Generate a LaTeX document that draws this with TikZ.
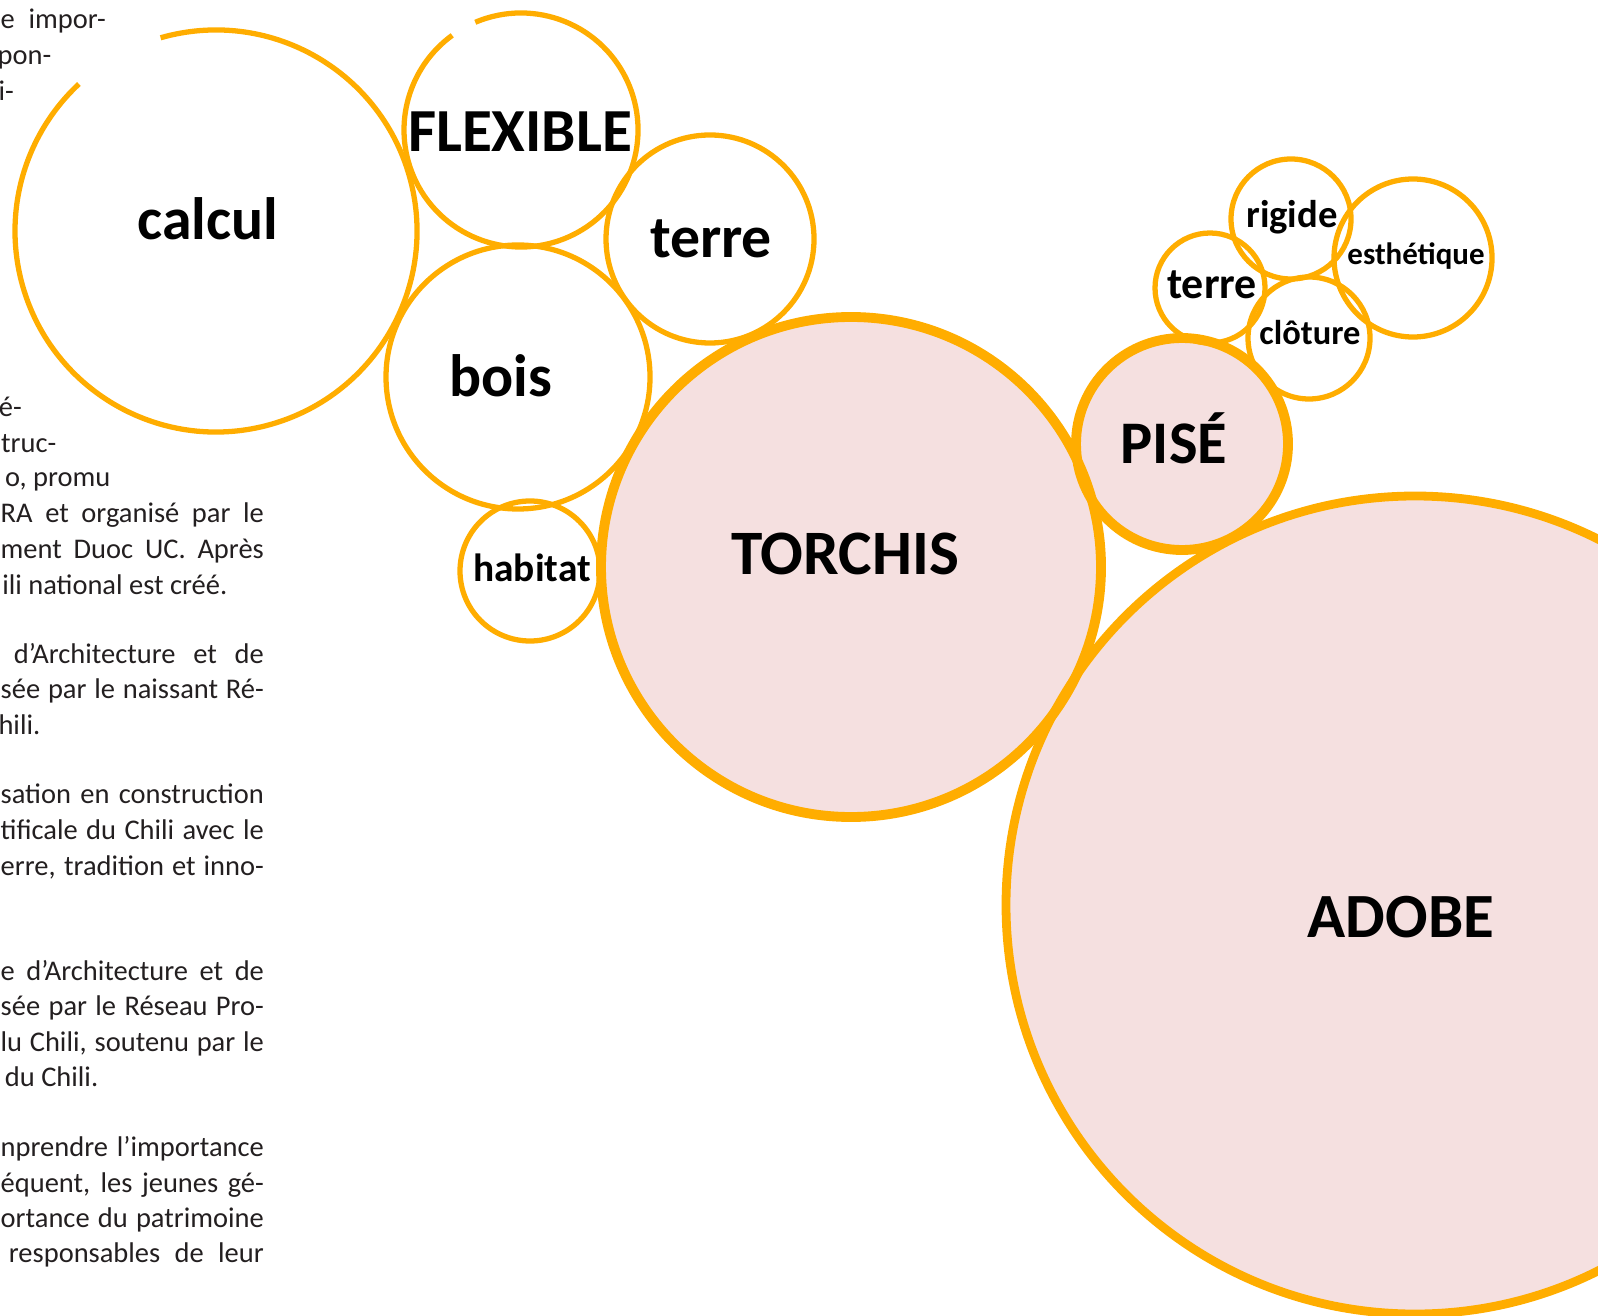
\documentclass[tikz,border=0pt]{standalone}
\usepackage{fontspec}
\setmainfont{Carlito}
\definecolor{bubbleorange}{RGB}{255,173,0}
\definecolor{bubblepink}{RGB}{245,224,224}
\definecolor{bodygray}{RGB}{35,31,32}

\begin{document}
\begin{tikzpicture}[x=0.01cm, y=-0.01cm,
    thinbubble/.style={draw=bubbleorange, line width=1.5pt},
    thickbubble/.style={draw=bubbleorange, line width=2.8pt},
    bubbletext/.style={font=\bfseries\fontsize{#1}{#1}\selectfont, anchor=base, inner sep=0pt},
    bodytext/.style={font=\fontsize{8.1}{10}\selectfont, text=bodygray, inner sep=0pt, anchor=base east},
    bodyjust/.style={bodytext, anchor=base west}]
  \useasboundingbox (0,0) rectangle (1598,1316);

  % column of text on the left
  \node[bodyjust] (t1) at (0,29) {\makebox[1.05cm][s]{e impor-}};
  \node[bodytext] (t2) at (52,65) {pon-};
  \node[bodytext] (t3) at (14.5,100.7) {i-};

  \node[bodytext] (a1) at (22.5,416.6) {é-};
  \node[bodytext] (a2) at (57,452.3) {truc-};
  \node[bodytext] (a3) at (111,487) {o, promu};
  \node[bodyjust] (a4) at (0,522.6) {\makebox[2.63cm][s]{RA et organisé par le}};
  \node[bodyjust] (a5) at (0,558.3) {\makebox[2.63cm][s]{ment Duoc UC. Après}};
  \node[bodytext] (a6) at (228,594) {ili national est créé.};

  \node[bodyjust] (b1) at (13.2,663.2) {\makebox[2.498cm][s]{d’Architecture et de}};
  \node[bodyjust] (b2) at (0,698.9) {\makebox[2.63cm][s]{sée par le naissant Ré-}};
  \node[bodytext] (b3) at (41,734.6) {hili.};

  \node[bodyjust] (c1) at (0,803.9) {\makebox[2.63cm][s]{sation en construction}};
  \node[bodyjust] (c2) at (0,839.5) {\makebox[2.63cm][s]{tificale du Chili avec le}};
  \node[bodyjust] (c3) at (0,875.2) {\makebox[2.63cm][s]{erre, tradition et inno-}};

  \node[bodyjust] (d1) at (0,980.2) {\makebox[2.63cm][s]{e d’Architecture et de}};
  \node[bodyjust] (d2) at (0,1015.8) {\makebox[2.63cm][s]{sée par le Réseau Pro-}};
  \node[bodyjust] (d3) at (0,1051.5) {\makebox[2.63cm][s]{lu Chili, soutenu par le}};
  \node[bodytext] (d4) at (99,1086.2) {du Chili.};

  \node[bodyjust] (e1) at (0,1156.5) {\makebox[2.63cm][s]{nprendre l’importance}};
  \node[bodyjust] (e2) at (0,1192.1) {\makebox[2.63cm][s]{équent, les jeunes gé-}};
  \node[bodyjust] (e3) at (0,1227.8) {\makebox[2.63cm][s]{ortance du patrimoine}};
  \node[bodyjust] (e4) at (8.2,1262.5) {\makebox[2.548cm][s]{responsables de leur}};

  % pink fills first
  \fill[bubblepink] (851,567) circle (250);
  \fill[bubblepink] (1182,444) circle (106);
  \fill[bubblepink] (1415,905) circle (409);

  % outlines
  \draw[thinbubble] (216,231) ++(254:201) arc[start angle=254, end angle=587, radius=201];
  \draw[thinbubble] (521,130) ++(247:117) arc[start angle=247, end angle=594, radius=117];
  \draw[thinbubble] (710,239) circle (104);
  \draw[thinbubble] (518,377) circle (132);
  \draw[thinbubble] (530,571) circle (70);
  \draw[thickbubble] (851,567) circle (250);
  \draw[thickbubble] (1182,444) circle (106);
  \draw[draw=bubbleorange, line width=2.5pt] (1415,905) circle (409);
  \draw[thinbubble] (1210,288) circle (55);
  \draw[thinbubble] (1291,219) circle (60);
  \draw[thinbubble] (1413,258) circle (79);
  \draw[thinbubble] (1309,338) circle (61);

  % words
  \node[bubbletext=17] (calcul) at (208,239.5) {calcul};
  \node[bubbletext=17.4] (flexible) at (520,152) {FLEXIBLE};
  \node[bubbletext=17] (terre) at (711,258) {terre};
  \node[bubbletext=17] (bois) at (501,397) {bois};
  \node[bubbletext=11.2] (habitat) at (532,581) {habitat};
  \node[bubbletext=18] (torchis) at (845,574) {TORCHIS};
  \node[bubbletext=17.2] (pise) at (1174,464) {PISÉ};
  \node[bubbletext=17.9] (adobe) at (1401,937) {ADOBE};
  \node[bubbletext=11] (rigide) at (1292,228) {rigide};
  \node[bubbletext=12.5] (terre2) at (1212,299) {terre};
  \node[bubbletext=8.8] (esthetique) at (1416,265) {esthétique};
  \node[bubbletext=9.8] (cloture) at (1310,345) {clôture};
\end{tikzpicture}
\end{document}
